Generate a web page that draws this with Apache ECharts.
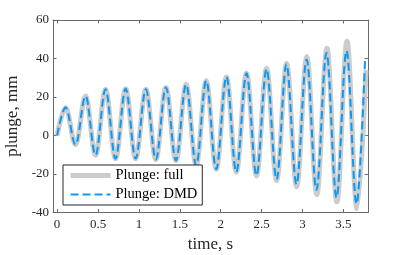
<!DOCTYPE html>
<html>
<head>
<meta charset="utf-8">
<script src="https://cdn.jsdelivr.net/npm/echarts@6/dist/echarts.min.js"></script>
<style>
html,body{margin:0;padding:0;background:#fff;}
#chart{width:407px;height:255px;}
</style>
</head>
<body>
<div id="chart"></div>
<script>
// Data (extrema of the oscillation)
const timeFull = [0, 0.104, 0.226, 0.348, 0.47, 0.592, 0.714, 0.838, 0.96, 1.085, 1.207, 1.33, 1.453, 1.577, 1.70, 1.823, 1.945, 2.07, 2.19, 2.315, 2.437, 2.56, 2.683, 2.805, 2.928, 3.052, 3.174, 3.298, 3.42, 3.543, 3.665, 3.775];
const plungeFull = [0, 14.5, -4.8, 20.5, -10.2, 24, -12, 24.3, -12, 24, -12.5, 25, -13, 26.5, -15.5, 28.5, -17.5, 30.5, -19, 32.5, -21, 35, -23.5, 37.5, -26.7, 41, -30.7, 45.3, -34.5, 49, -38, 34];
const timeDMD = [0, 0.104, 0.226, 0.348, 0.47, 0.592, 0.714, 0.838, 0.96, 1.085, 1.207, 1.33, 1.453, 1.577, 1.70, 1.823, 1.945, 2.07, 2.19, 2.315, 2.437, 2.56, 2.683, 2.803, 2.926, 3.05, 3.17, 3.293, 3.415, 3.537, 3.66, 3.765];
const plungeDMD = [0, 14.5, -4.8, 20.5, -10.2, 24, -12, 24.3, -12, 24, -12.5, 25, -13, 26.5, -15.5, 28.5, -17.5, 30.5, -19, 32.3, -20.7, 34.5, -22.8, 37, -25.3, 39.5, -28.3, 43, -32.2, 44, -35.5, 40.6];
const xTicks = [0, 0.5, 1, 1.5, 2, 2.5, 3, 3.5];
const yTicks = [-40, -20, 0, 20, 40, 60];
const seriesNames = ['Plunge: full', 'Plunge: DMD'];

const pair = (t, v) => t.map((x, i) => [x, v[i]]);
const font = 'Liberation Serif';
const axisCol = '#6a6a6a';
const txtCol = '#262626';

const chart = echarts.init(document.getElementById('chart'), null, {renderer: 'canvas'});
const xBase = {
  type: 'value', min: -0.05, max: 3.8,
  axisLine: {show: true, onZero: false, lineStyle: {color: axisCol, width: 1}},
  axisTick: {show: true, inside: true, length: 3.5, customValues: xTicks, lineStyle: {color: axisCol}},
  splitLine: {show: false}
};
const yBase = {
  type: 'value', min: -40, max: 60, interval: 20,
  axisLine: {show: true, onZero: false, lineStyle: {color: axisCol, width: 1}},
  axisTick: {show: true, inside: true, length: 3.5, lineStyle: {color: axisCol}},
  splitLine: {show: false}
};
chart.setOption({
  animation: false,
  backgroundColor: '#fff',
  grid: {left: 53, right: 39, top: 20, bottom: 42.5, containLabel: false, outerBoundsMode: 'none'},
  xAxis: [
    Object.assign({}, xBase, {
      position: 'bottom',
      name: 'time, s', nameLocation: 'middle', nameGap: 23,
      nameTextStyle: {fontFamily: font, fontSize: 17, color: txtCol},
      axisLabel: {show: true, customValues: xTicks, margin: 6, fontFamily: font, fontSize: 13, color: txtCol,
        formatter: v => String(v)}
    }),
    Object.assign({}, xBase, {position: 'top', axisLabel: {show: false}})
  ],
  yAxis: [
    Object.assign({}, yBase, {
      position: 'left',
      name: 'plunge, mm', nameLocation: 'middle', nameGap: 28,
      nameTextStyle: {fontFamily: font, fontSize: 17, color: txtCol},
      axisLabel: {show: true, margin: 4, fontFamily: font, fontSize: 13, color: txtCol}
    }),
    Object.assign({}, yBase, {position: 'right', axisLabel: {show: false}})
  ],
  legend: {
    show: true, orient: 'vertical', left: 63, top: 165,
    itemWidth: 40, itemHeight: 14, itemGap: 4,
    padding: [3, 5, 3, 5],
    backgroundColor: '#fff', borderColor: '#262626', borderWidth: 1, borderRadius: 0,
    itemStyle: {opacity: 0, color: 'transparent', borderWidth: 0},
    lineStyle: {width: 'inherit'},
    textStyle: {fontFamily: font, fontSize: 14.5, color: '#000'},
    data: seriesNames
  },
  series: [
    {
      name: seriesNames[0], type: 'line', data: pair(timeFull, plungeFull),
      xAxisIndex: 0, yAxisIndex: 0,
      smooth: 0.36, smoothMonotone: 'x', symbol: 'none', clip: true,
      lineStyle: {color: '#cccccc', width: 5}, itemStyle: {color: '#cccccc', opacity: 0}, z: 2
    },
    {
      name: seriesNames[1], type: 'line', data: pair(timeDMD, plungeDMD),
      xAxisIndex: 0, yAxisIndex: 0,
      smooth: 0.36, smoothMonotone: 'x', symbol: 'none', clip: true,
      lineStyle: {color: '#0a99f5', width: 2, type: [8, 4]}, itemStyle: {color: '#0a99f5', opacity: 0}, z: 3
    }
  ]
});
</script>
</body>
</html>
